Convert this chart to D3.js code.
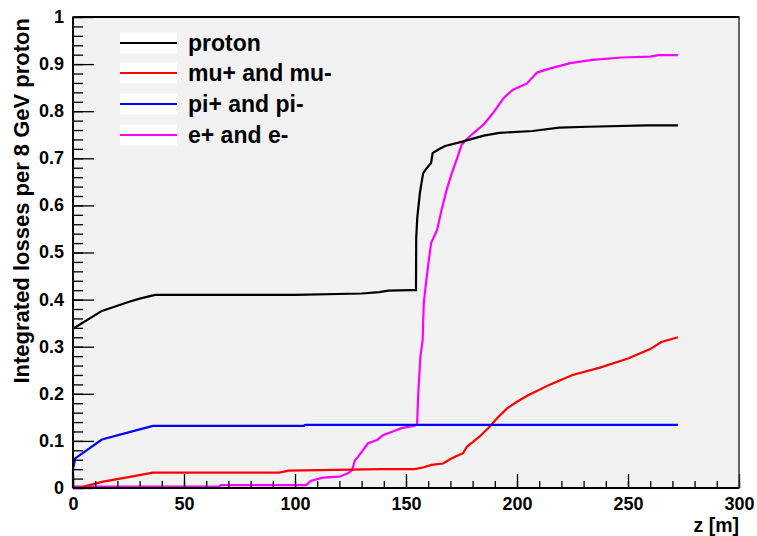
<!DOCTYPE html>
<html>
<head>
<meta charset="utf-8">
<script src="https://cdn.jsdelivr.net/npm/d3@7"></script>
<style>
  body { margin: 0; background: #fff; }
  svg { display: block; }
  text { font-family: "Liberation Sans", Arial, Helvetica, sans-serif; font-weight: bold; fill: #000; }
</style>
</head>
<body>
<svg id="chart" width="757" height="536"></svg>
<script>
// ---- data ----
const seriesNames = ["proton", "mu+ and mu-", "pi+ and pi-", "e+ and e-"];
const seriesColors = ["#000000", "#ff0000", "#0000ff", "#ff00ff"];

const protonZ = [0, 13, 20, 25, 30, 37, 100, 130, 138, 142, 152, 154.5, 154.6, 155.1, 156.3, 157.7, 159.3, 161.3, 162, 164.4, 167.6, 175, 185, 192, 207, 219, 232, 258.5, 272.5];
const protonV = [0.338, 0.376, 0.387, 0.395, 0.402, 0.41, 0.41, 0.413, 0.416, 0.419, 0.42, 0.42, 0.531, 0.575, 0.628, 0.668, 0.679, 0.69, 0.711, 0.718, 0.726, 0.735, 0.748, 0.754, 0.758, 0.765, 0.767, 0.770, 0.770];

const muZ = [0, 4, 13, 25, 36, 93, 97, 139, 154, 158, 161.5, 166.7, 169.8, 172.8, 175.7, 177.5, 180.2, 183.3, 187, 191, 195.5, 200, 205, 215, 225, 237, 250, 260, 265, 272.5];
const muV = [0, 0.002, 0.013, 0.023, 0.0325, 0.0325, 0.037, 0.04, 0.04, 0.044, 0.049, 0.052, 0.061, 0.068, 0.074, 0.088, 0.098, 0.11, 0.127, 0.148, 0.169, 0.183, 0.197, 0.22, 0.24, 0.255, 0.275, 0.295, 0.31, 0.32];

const piZ = [0, 0, 1, 13, 25, 36, 104, 104.5, 272.5];
const piV = [0, 0.04, 0.063, 0.103, 0.118, 0.132, 0.132, 0.134, 0.134];

const eZ = [0, 66, 66.5, 105, 107, 112.6, 120, 124, 125.7, 127, 128.4, 132.9, 137, 139.6, 144, 148, 154, 155, 155.5, 156.5, 157.5, 158, 159, 160, 161.3, 164, 166, 168.3, 170.6, 173, 175, 177, 180, 185, 189, 194, 198, 204.5, 209, 215, 224, 234, 247, 260, 263.5, 272.5];
const eV = [0.003, 0.003, 0.006, 0.006, 0.015, 0.022, 0.024, 0.032, 0.038, 0.059, 0.066, 0.095, 0.102, 0.112, 0.12, 0.127, 0.132, 0.135, 0.2, 0.28, 0.314, 0.392, 0.435, 0.473, 0.52, 0.548, 0.59, 0.633, 0.668, 0.7, 0.728, 0.739, 0.752, 0.772, 0.795, 0.828, 0.845, 0.859, 0.882, 0.891, 0.902, 0.909, 0.914, 0.916, 0.919, 0.919];

const xMajorTicks = [0, 50, 100, 150, 200, 250, 300];
const yMajorTicks = [0, 0.1, 0.2, 0.3, 0.4, 0.5, 0.6, 0.7, 0.8, 0.9, 1];
const xTitle = "z [m]";
const yTitle = "Integrated losses per 8 GeV proton";

// ---- drawing ----
const svg = d3.select("#chart");
const L = 73, R = 739, T = 17, B = 488;
const x = d3.scaleLinear().domain([0, 300]).range([L, R]);
const y = d3.scaleLinear().domain([0, 1]).range([B, T]);

svg.append("rect").attr("x", L).attr("y", T).attr("width", R - L).attr("height", B - T)
  .attr("fill", "#f2f2f2");

const series = [
  { z: protonZ, v: protonV },
  { z: muZ, v: muV },
  { z: piZ, v: piV },
  { z: eZ, v: eV }
];

const line = d3.line().x(d => x(d[0])).y(d => y(d[1]));
const order = [3, 1, 2, 0];
order.forEach(i => {
  const s = series[i];
  const pts = s.z.map((z, k) => [z, s.v[k]]);
  svg.append("path").attr("d", line(pts)).attr("fill", "none")
    .attr("stroke", seriesColors[i]).attr("stroke-width", 2.2)
    .attr("stroke-linejoin", "miter");
});

// minor ticks
const xMinor = d3.range(0, 301, 10);
const yMinor = d3.range(0, 1.0001, 0.02);

const gxMinor = svg.append("g").attr("transform", `translate(0,${B})`)
  .call(d3.axisBottom(x).tickValues(xMinor).tickSize(-7).tickFormat(""));
const gyMinor = svg.append("g").attr("transform", `translate(${L},0)`)
  .call(d3.axisLeft(y).tickValues(yMinor).tickSize(-10).tickFormat(""));

const gx = svg.append("g").attr("transform", `translate(0,${B})`)
  .call(d3.axisBottom(x).tickValues(xMajorTicks).tickSize(-14).tickPadding(9).tickFormat(d3.format("d")));
const gy = svg.append("g").attr("transform", `translate(${L},0)`)
  .call(d3.axisLeft(y).tickValues(yMajorTicks).tickSize(-21).tickPadding(9).tickFormat(d3.format("~g")));

[gxMinor, gyMinor, gx, gy].forEach(g => {
  g.select(".domain").remove();
  g.selectAll(".tick line").attr("stroke", "#000").attr("stroke-width", 1.3);
});
gx.selectAll("text").attr("font-size", 18).attr("font-family", "Liberation Sans, Arial, sans-serif").attr("font-weight", "bold").attr("fill", "#000");
gy.selectAll("text").attr("font-size", 18).attr("font-family", "Liberation Sans, Arial, sans-serif").attr("font-weight", "bold").attr("fill", "#000").attr("dy", "0.3em");

// frame
svg.append("rect").attr("x", L).attr("y", T).attr("width", R - L).attr("height", B - T)
  .attr("fill", "none").attr("stroke", "#333").attr("stroke-width", 1.5);
svg.append("line").attr("x1", L).attr("x2", L).attr("y1", T).attr("y2", B).attr("stroke", "#000").attr("stroke-width", 2);
svg.append("line").attr("x1", L).attr("x2", R).attr("y1", B).attr("y2", B).attr("stroke", "#000").attr("stroke-width", 2);
svg.append("line").attr("x1", L).attr("x2", R).attr("y1", T).attr("y2", T).attr("stroke", "#000").attr("stroke-width", 2);

// titles
svg.append("text").attr("x", R).attr("y", 532).attr("text-anchor", "end").attr("font-size", 19.5).text(xTitle);
svg.append("text").attr("transform", "translate(29,18) rotate(-90)").attr("text-anchor", "end")
  .attr("font-size", 22).text(yTitle);

// legend
const legendRowY = [43, 73, 104, 135];
seriesNames.forEach((name, i) => {
  const g = svg.append("g");
  g.append("rect").attr("x", 120).attr("y", legendRowY[i] - 10.5).attr("width", 57).attr("height", 21).attr("fill", "#fff");
  g.append("line").attr("x1", 120).attr("x2", 177).attr("y1", legendRowY[i]).attr("y2", legendRowY[i])
    .attr("stroke", seriesColors[i]).attr("stroke-width", 2.2);
  g.append("text").attr("x", 188).attr("y", legendRowY[i] + 8).attr("font-size", 23).text(name);
});
</script>
</body>
</html>
